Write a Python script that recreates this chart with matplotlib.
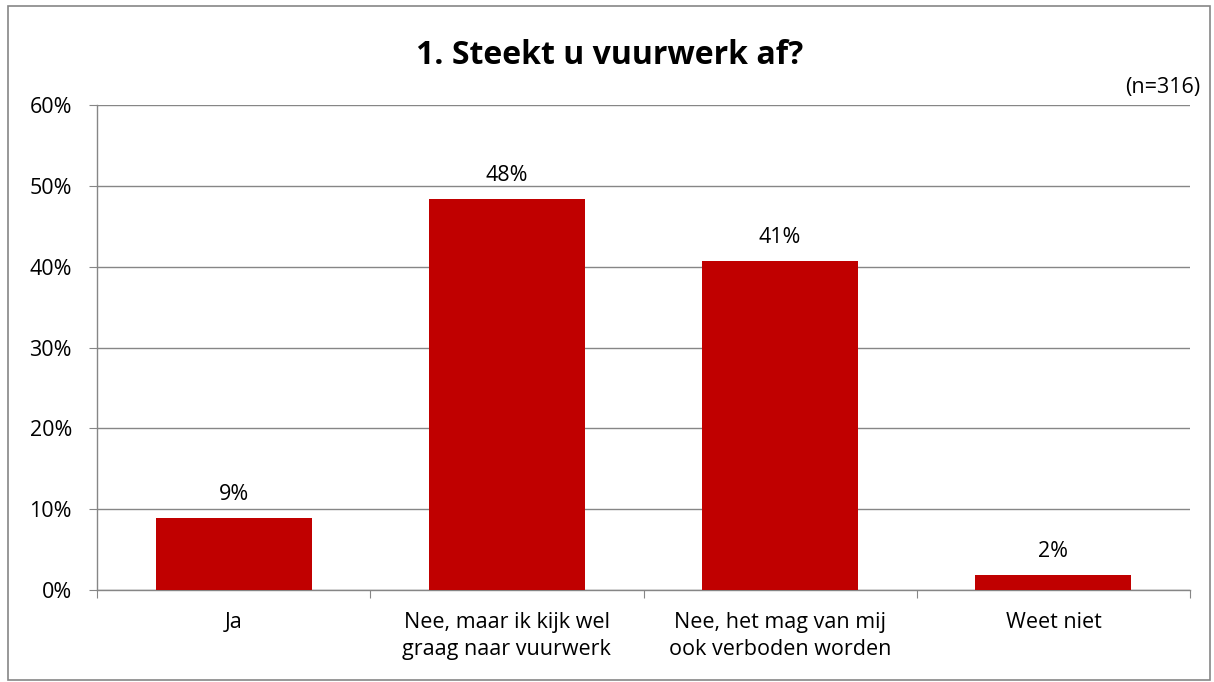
import matplotlib.pyplot as plt
import matplotlib.patches as mpatches
import numpy as np

categories = ["Ja", "Nee, maar ik kijk wel\ngraag naar vuurwerk",
              "Nee, het mag van mij\nook verboden worden", "Weet niet"]
values = [8.9, 48.4, 40.7, 1.9]
value_labels = ["9%", "48%", "41%", "2%"]
yticks = [0, 10, 20, 30, 40, 50, 60]

plt.rcParams["font.family"] = ["Open Sans", "DejaVu Sans"]
grey = "#868686"

fig = plt.figure(figsize=(12.14, 6.82), dpi=100)
fig.patches.append(mpatches.Rectangle((8 / 1214, 2 / 682), 1202 / 1214, 674 / 682,
                                      transform=fig.transFigure, fill=False,
                                      edgecolor=grey, linewidth=1.2))
ax = fig.add_axes([97 / 1214, 1 - 590 / 682, 1093 / 1214, 485 / 682])

x = np.arange(len(categories))
ax.bar(x, values, width=0.57, color="#C00000", zorder=3)
for xi, v, lab in zip(x, values, value_labels):
    ax.text(xi, v + 1.6, lab, ha="center", va="bottom", fontsize=15.5)

ax.set_xlim(-0.5, len(categories) - 0.5)
ax.set_ylim(0, 60)
ax.set_yticks(yticks)
ax.set_yticklabels([f"{t}%" for t in yticks], fontsize=15.5)
ax.set_xticks(np.arange(len(categories) + 1) - 0.5)
ax.set_xticklabels([])
ax.set_xticks(x, minor=True)
ax.set_xticklabels(categories, minor=True, fontsize=15.5, linespacing=1.35)
ax.tick_params(axis="x", which="minor", length=0, pad=16)
ax.tick_params(axis="x", which="major", length=6, color=grey, direction="out")
ax.tick_params(axis="y", length=6, color=grey, direction="out", pad=12)
ax.grid(axis="y", color=grey, linewidth=1, zorder=0)
for s in ["top", "right"]:
    ax.spines[s].set_visible(False)
for s in ["left", "bottom"]:
    ax.spines[s].set_color(grey)
    ax.spines[s].set_linewidth(1)

fig.text(610 / 1214, 1 - 56 / 682, "1. Steekt u vuurwerk af?", ha="center",
         va="center", fontsize=23, fontweight="bold")
fig.text(1200 / 1214, 1 - 88 / 682, "(n=316)", ha="right", va="center", fontsize=15.5)

fig.savefig("out.png", dpi=100)
